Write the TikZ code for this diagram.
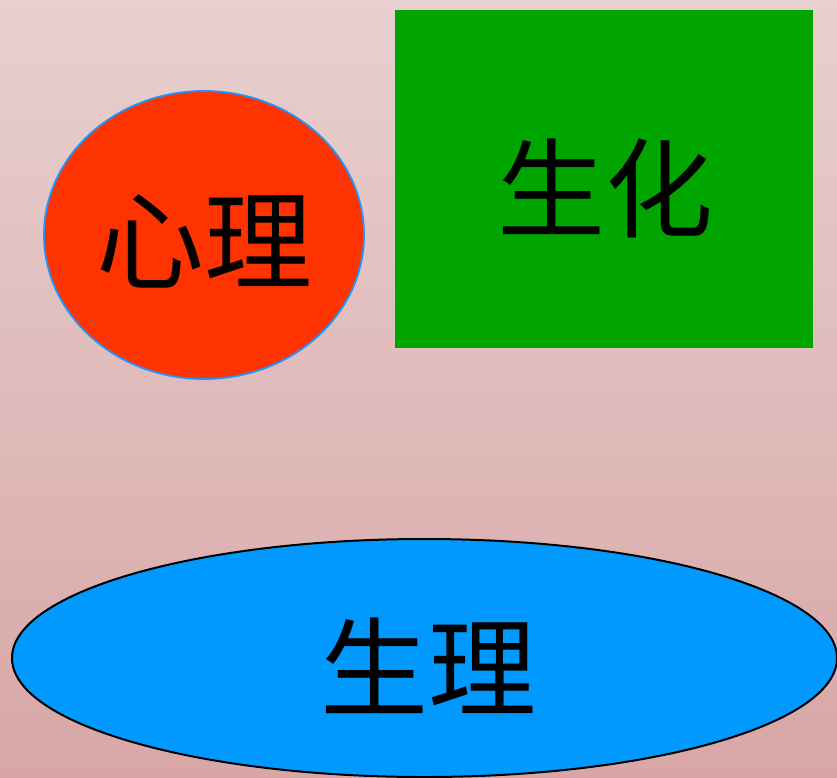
\documentclass[tikz,border=0pt]{standalone}
\usepackage{fontspec}
\newfontfamily\cjk{Noto Sans CJK SC}
\usetikzlibrary{shapes.geometric}
\definecolor{bgtop}{RGB}{232,208,208}
\definecolor{bgbot}{RGB}{216,166,166}
\definecolor{redfill}{RGB}{255,51,0}
\definecolor{blueline}{RGB}{30,150,255}
\definecolor{greenfill}{RGB}{0,165,0}
\definecolor{bluefill}{RGB}{0,153,255}
\tikzset{
  lbl/.style={font=\cjk\fontsize{108}{118}\selectfont, text=black},
}
\begin{document}
\begin{tikzpicture}[x=1pt,y=-1pt]
\useasboundingbox (0,0) rectangle (837,777);
\shade[top color=bgtop, bottom color=bgbot] (0,0) rectangle (837,777);
\begin{scope}
\clip (0,0) rectangle (837,777);
\node[ellipse, draw=blueline, line width=1.8pt, fill=redfill, minimum width=320pt, minimum height=288pt, inner sep=0pt] (xinli) at (204,235) {};
\node[lbl] at (204,241) {心理};
\node[rectangle, fill=greenfill, minimum width=418pt, minimum height=338pt, inner sep=0pt] (shenghua) at (604,179) {};
\node[lbl] at (605,188) {生化};
\node[ellipse, draw=black, line width=2pt, fill=bluefill, minimum width=825pt, minimum height=238pt, inner sep=0pt] (shengli) at (424.5,658) {};
\node[lbl] at (428,666) {生理};
\end{scope}
\end{tikzpicture}
\end{document}
